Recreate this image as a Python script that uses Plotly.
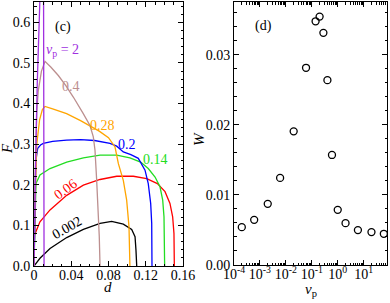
import plotly.graph_objects as go

# ---- Panel (c): F vs d for several v_p ----
curve_labels = ["2", "0.4", "0.28", "0.2", "0.14", "0.06", "0.002"]

d_vp2 = [0, 0.0005, 0.002, 0.0035, 0.0054, 0.007, 0.009, 0.0102, 0.0105, 0.0107, 0.0108]
F_vp2 = [0, 0.1, 0.29, 0.45, 0.65, 0.8, 0.85, 0.75, 0.5, 0.2, 0]

d_vp04 = [0, 0.001, 0.003, 0.0046, 0.008, 0.0118, 0.018, 0.0261, 0.0342, 0.0422, 0.0529,
          0.0601, 0.0637, 0.0655, 0.0673, 0.069, 0.0701, 0.0709]
F_vp04 = [0, 0.2, 0.38, 0.432, 0.48, 0.504, 0.49, 0.469, 0.444, 0.416, 0.375,
          0.346, 0.318, 0.285, 0.211, 0.138, 0.072, 0]

d_vp028 = [0, 0.001, 0.003, 0.006, 0.009, 0.0118, 0.02, 0.035, 0.05, 0.06, 0.07, 0.08,
           0.087, 0.0906, 0.0959, 0.0995, 0.102, 0.103]
F_vp028 = [0, 0.15, 0.3, 0.36, 0.385, 0.393, 0.387, 0.375, 0.358, 0.346, 0.332, 0.316,
           0.293, 0.252, 0.211, 0.162, 0.097, 0]

d_vp02 = [0, 0.001, 0.002, 0.004, 0.007, 0.01, 0.02, 0.035, 0.05, 0.065, 0.0816, 0.0888,
          0.0959, 0.104, 0.112, 0.1192, 0.1227, 0.1253, 0.1264, 0.1267]
F_vp02 = [0, 0.15, 0.26, 0.29, 0.298, 0.302, 0.307, 0.31, 0.311, 0.309, 0.302, 0.295,
          0.281, 0.274, 0.265, 0.236, 0.203, 0.154, 0.105, 0]

d_vp014 = [0, 0.0008, 0.0021, 0.0064, 0.0172, 0.0351, 0.053, 0.0709, 0.0888, 0.103, 0.1145,
           0.1227, 0.13, 0.1353, 0.1382, 0.1396, 0.1403]
F_vp014 = [0, 0.12, 0.203, 0.224, 0.24, 0.256, 0.266, 0.273, 0.273, 0.266, 0.256,
           0.24, 0.219, 0.195, 0.162, 0.121, 0]

d_vp006 = [0, 0.0005, 0.0064, 0.0172, 0.0351, 0.053, 0.0709, 0.0888, 0.1067, 0.121, 0.1325,
           0.1407, 0.146, 0.1489, 0.1503, 0.1507]
F_vp006 = [0, 0.076, 0.109, 0.138, 0.174, 0.199, 0.213, 0.221, 0.221, 0.215, 0.203,
           0.183, 0.154, 0.121, 0.08, 0]

d_vp0002 = [0, 0.0064, 0.0172, 0.0351, 0.053, 0.0709, 0.0834, 0.0959, 0.1049, 0.1085, 0.1095, 0.1103]
F_vp0002 = [0, 0.019, 0.043, 0.07, 0.09, 0.105, 0.11, 0.103, 0.09, 0.072, 0.039, 0]

# ---- Panel (d): W vs v_p ----
vp_values = [2e-4, 6e-4, 2e-3, 6e-3, 0.02, 0.06, 0.14, 0.2, 0.28, 0.4, 0.6, 1, 2, 6, 20, 60]
W_values = [0.0054, 0.00644, 0.00872, 0.01242, 0.01906, 0.02812, 0.03475, 0.03542,
            0.0331, 0.02636, 0.01569, 0.00787, 0.00597, 0.00498, 0.00469, 0.00445]

x_ticks_c = [0, 0.04, 0.08, 0.12, 0.16]
x_ticklabels_c = ["0", "0.04", "0.08", "0.12", "0.16"]
y_ticks_c = [0, 0.1, 0.2, 0.3, 0.4, 0.5, 0.6]
y_ticklabels_c = ["0.0", "0.1", "0.2", "0.3", "0.4", "0.5", "0.6"]
x_ticks_d = [1e-4, 1e-3, 1e-2, 1e-1, 1e0, 1e1]
x_ticklabels_d = ["10<sup>-4</sup>", "10<sup>-3</sup>", "10<sup>-2</sup>",
                  "10<sup>-1</sup>", "10<sup>0</sup>", "10<sup>1</sup>"]
y_ticks_d = [0, 0.01, 0.02, 0.03]
y_ticklabels_d = ["0.00", "0.01", "0.02", "0.03"]

colors = {
    "2": "#a030e0",
    "0.4": "#bc8f8f",
    "0.28": "#ffa500",
    "0.2": "#0000ff",
    "0.14": "#22dd22",
    "0.06": "#ff0000",
    "0.002": "#000000",
}

FONT = "Times New Roman, Liberation Serif, serif"
W_PX, H_PX = 390, 303

fig = go.Figure()
series = [("2", d_vp2, F_vp2), ("0.4", d_vp04, F_vp04), ("0.28", d_vp028, F_vp028),
          ("0.2", d_vp02, F_vp02), ("0.14", d_vp014, F_vp014), ("0.06", d_vp006, F_vp006),
          ("0.002", d_vp0002, F_vp0002)]
for name, dx, fy in series[::-1]:
    fig.add_trace(go.Scatter(x=dx, y=fy, mode="lines", line=dict(color=colors[name], width=1.3),
                             xaxis="x", yaxis="y", showlegend=False, hoverinfo="skip"))

fig.add_trace(go.Scatter(x=vp_values, y=W_values, mode="markers",
                         marker=dict(symbol="circle-open", size=7, color="black",
                                     line=dict(width=1.3, color="black")),
                         xaxis="x2", yaxis="y2", showlegend=False, cliponaxis=False))

def px_x(p):
    return p / W_PX

def px_y(p):
    return 1 - p / H_PX

axis_common = dict(showline=True, linecolor="black", linewidth=1, mirror="allticks",
                   ticks="inside", ticklen=5, tickwidth=1, tickcolor="black",
                   showgrid=False, zeroline=False, automargin=False,
                   tickfont=dict(family=FONT, size=14, color="black"))

fig.update_layout(
    template="none",
    width=W_PX, height=H_PX,
    margin=dict(l=0, r=0, t=0, b=0, pad=0),
    paper_bgcolor="white", plot_bgcolor="white",
    xaxis=dict(domain=[px_x(34), px_x(183)], range=[0, 0.16], tickmode="array",
               tickvals=x_ticks_c, ticktext=x_ticklabels_c, anchor="y", ticklabelstandoff=-4,
               minor=dict(ticks="inside", ticklen=2.5, dtick=0.01, tick0=0, tickcolor="black"),
               **axis_common),
    yaxis=dict(domain=[px_y(266), px_y(2)], range=[0, 0.65], tickmode="array",
               tickvals=y_ticks_c, ticktext=y_ticklabels_c, anchor="x",
               minor=dict(ticks="inside", ticklen=2.5, dtick=0.02, tick0=0, tickcolor="black"),
               **axis_common),
    xaxis2=dict(domain=[px_x(234), px_x(387)], type="log", range=[-4, 1.9], tickmode="array",
                tickvals=x_ticks_d, ticktext=x_ticklabels_d, anchor="y2", ticklabelstandoff=-4,
                minor=dict(ticks="inside", ticklen=2.5, dtick="D1", tickcolor="black"),
                **axis_common),
    yaxis2=dict(domain=[px_y(265), px_y(2)], range=[0, 0.0375], tickmode="array",
                tickvals=y_ticks_d, ticktext=y_ticklabels_d, anchor="x2",
                minor=dict(ticks="inside", ticklen=2.5, dtick=0.002, tick0=0, tickcolor="black"),
                **axis_common),
)

def ann(text, x, y, color="black", size=14, angle=0):
    fig.add_annotation(text=text, x=px_x(x), y=px_y(y), xref="paper", yref="paper",
                       showarrow=False, xanchor="center", yanchor="middle",
                       textangle=angle, font=dict(family=FONT, size=size, color=color))

# Panel labels
ann("(c)", 63.3, 27)
ann("(d)", 263.7, 26.3)
# Curve labels
ann("<i>v</i><sub>p</sub> = 2", 62.3, 50, colors["2"])
ann("0.4", 70.5, 86, colors["0.4"])
ann("0.28", 102, 125.3, colors["0.28"])
ann("0.2", 126.7, 144.3, colors["0.2"])
ann("0.14", 155.8, 159.5, colors["0.14"])
ann("0.06", 65, 189, colors["0.06"], angle=-36)
ann("0.002", 67.3, 227.3, colors["0.002"], angle=-30)
# Axis titles
ann("<i>d</i>", 107.5, 287, size=15)
ann("<i>F</i>", 7, 148, size=15, angle=-90)
ann("<i>W</i>", 199, 139, size=15, angle=-90)
ann("<i>v</i><sub>p</sub>", 311, 290, size=15)

fig.write_html("out.html", config={"displayModeBar": False},
               post_script="document.body.style.margin='0px';document.body.style.overflow='hidden';")
